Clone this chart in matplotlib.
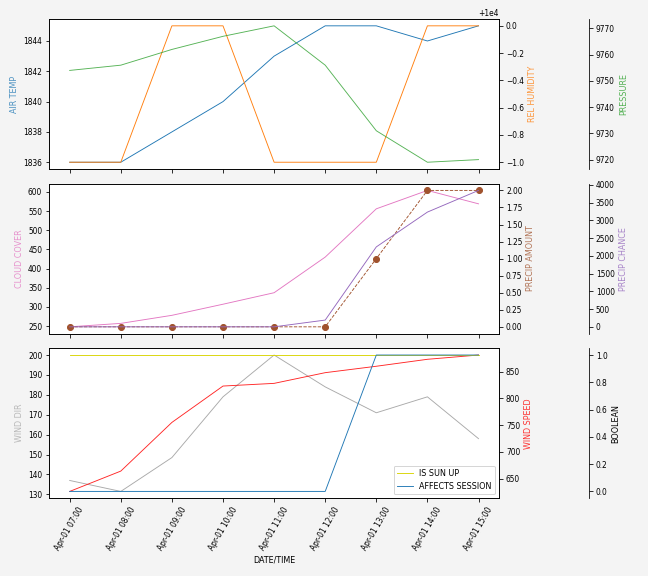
import numpy as np
import pandas as pd
import matplotlib
matplotlib.use('Agg')
import matplotlib.pyplot as plt
import matplotlib.dates as mdates

plt.rcParams['font.size'] = 8
plt.rcParams['xtick.labelsize'] = 7.5
plt.rcParams['ytick.labelsize'] = 7.5

times = pd.date_range('2021-04-01 07:00', '2021-04-01 15:00', freq='h')

air_temp = [1836, 1836, 1838, 1840, 1843, 1845, 1845, 1844, 1845]
rel_humidity = [9999, 9999, 10000, 10000, 9999, 9999, 9999, 10000, 10000]
pressure = [9754, 9756, 9762, 9767, 9771, 9756, 9731, 9719, 9720]

cloud_cover = [248, 257, 278, 307, 337, 430, 556, 604, 569]
precip_amount = [0, 0, 0, 0, 0, 0, 1, 2, 2]
precip_chance = [0, 0, 0, 0, 0, 190, 2250, 3230, 3840]

wind_dir = [137, 131.5, 148.5, 179, 200, 184, 171, 179, 158]
wind_speed = [626, 664, 755, 823, 828, 848, 860, 873, 881]
is_sun_up = [1, 1, 1, 1, 1, 1, 1, 1, 1]
affects_session = [0, 0, 0, 0, 0, 0, 1, 1, 1]

fig, axes = plt.subplots(3, 1, figsize=(9, 8), dpi=72, sharex=True)
fig.patch.set_facecolor('#f4f4f4')
plt.subplots_adjust(left=0.076, right=0.77, top=0.967, bottom=0.135, hspace=0.097)

def third_axis(ax):
    # extra y axis pushed out to the right
    par = ax.twinx()
    par.spines['right'].set_position(('axes', 1.2))
    par.set_frame_on(True)
    par.patch.set_visible(False)
    for sp in par.spines.values():
        sp.set_visible(False)
    par.spines['right'].set_visible(True)
    return par

lw = 0.9

# top panel
ax = axes[0]
ax.plot(times, air_temp, color='tab:blue', lw=lw)
ax.set_ylabel('AIR TEMP', color='tab:blue', alpha=0.8)
p1 = ax.twinx()
p1.plot(times, rel_humidity, color='tab:orange', lw=lw)
p1.set_ylabel('REL HUMIDITY', color='tab:orange', alpha=0.8)
p2 = third_axis(ax)
p2.plot(times, pressure, color='tab:green', lw=lw, alpha=0.8)
p2.set_ylabel('PRESSURE', color='tab:green', alpha=0.8)

# middle panel
ax = axes[1]
ax.plot(times, cloud_cover, color='tab:pink', lw=lw)
ax.set_ylabel('CLOUD COVER', color='tab:pink', alpha=0.8)
p1 = ax.twinx()
p1.plot(times, precip_amount, color='sienna', lw=lw, ls='--', marker='o', ms=6)
p1.set_ylabel('PRECIP AMOUNT', color='sienna', alpha=0.8)
p2 = third_axis(ax)
p2.plot(times, precip_chance, color='tab:purple', lw=lw)
p2.set_ylabel('PRECIP CHANCE', color='tab:purple', alpha=0.8)

# bottom panel
ax = axes[2]
ax.plot(times, wind_dir, color='darkgray', lw=lw)
ax.set_ylabel('WIND DIR', color='darkgray', alpha=0.8)
p1 = ax.twinx()
p1.plot(times, wind_speed, color='red', lw=lw, alpha=0.85)
p1.set_ylabel('WIND SPEED', color='red', alpha=0.8)
p2 = third_axis(ax)
p2.plot(times, is_sun_up, color='#d9d400', lw=lw, label='IS SUN UP')
p2.plot(times, affects_session, color='tab:blue', lw=lw, label='AFFECTS SESSION')
p2.set_ylabel('BOOLEAN')
p2.legend(loc='lower right', fontsize=8)

ax.set_xlabel('DATE/TIME')
ax.xaxis.set_major_locator(mdates.HourLocator())
ax.xaxis.set_major_formatter(mdates.DateFormatter('%b-%d %H:%M'))
for lab in ax.get_xticklabels():
    lab.set_rotation(60)

plt.savefig('out.png', dpi=72, facecolor=fig.get_facecolor())
